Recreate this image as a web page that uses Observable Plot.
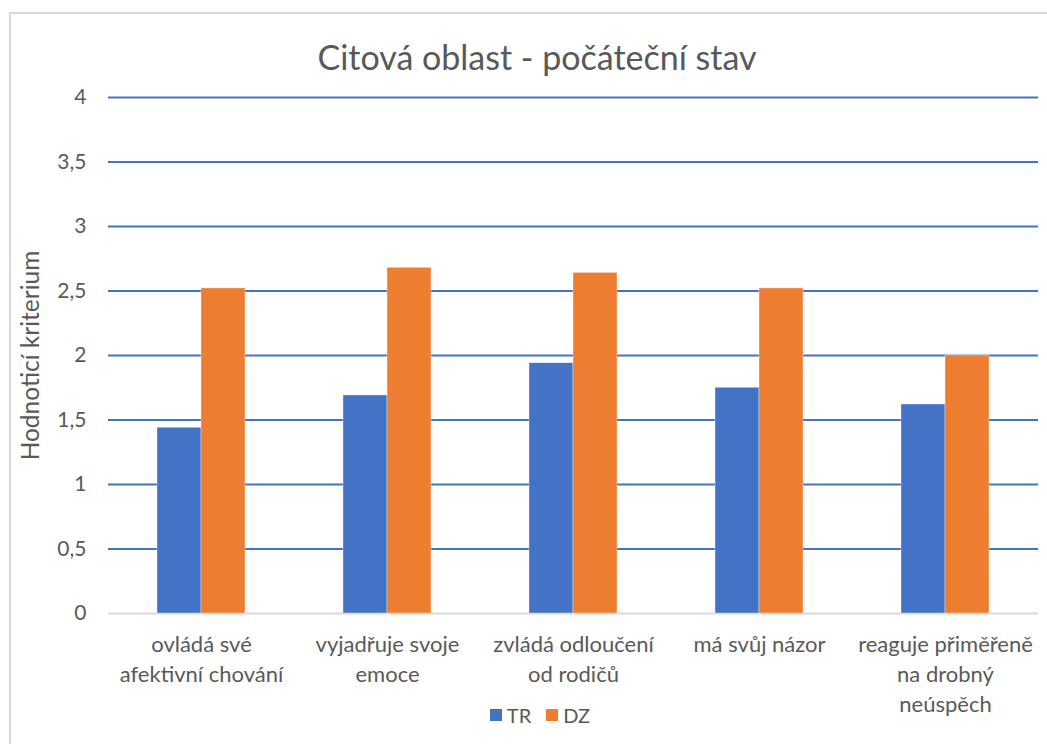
<!DOCTYPE html>
<html>
<head>
<meta charset="utf-8">
<script src="https://cdn.jsdelivr.net/npm/d3@7"></script>
<script src="https://cdn.jsdelivr.net/npm/@observablehq/plot@0.6"></script>
<style>
  html, body { margin: 0; padding: 0; background: #fff; }
  #wrap { position: relative; width: 1047px; height: 744px; overflow: hidden; font-family: Lato, "Open Sans", sans-serif; color: #595959; }
  #border { position: absolute; left: 9px; top: 12px; width: 1100px; height: 800px; border-left: 2px solid #d9d9d9; border-top: 2px solid #d9d9d9; }
  #title { position: absolute; left: 0; width: 1074px; top: 37px; text-align: center; font-size: 34px; line-height: 40px; }
  #legend { position: absolute; left: 0; width: 1080px; top: 703px; display: flex; justify-content: center; gap: 15px; font-size: 20px; line-height: 24px; }
  #legend .item { display: flex; align-items: center; gap: 5px; }
  #legend .sw { width: 12px; height: 12px; display: inline-block; }
  #chart { position: absolute; left: 0; top: 0; }
</style>
</head>
<body>
<div id="wrap">
  <div id="border"></div>
  <div id="chart"></div>
  <div id="title"></div>
  <div id="legend"></div>
</div>
<script>
const titleText = "Citová oblast - počáteční stav";
const yLabel = "Hodnoticí kriterium";
const categories = [
  "ovládá své\nafektivní chování",
  "vyjadřuje svoje\nemoce",
  "zvládá odloučení\nod rodičů",
  "má svůj názor",
  "reaguje přiměřeně\nna drobný\nneúspěch"
];
const series = ["TR", "DZ"];
const seriesColors = ["#4472C4", "#ED7D31"];
const trValues = [1.44, 1.69, 1.94, 1.75, 1.62];
const dzValues = [2.52, 2.68, 2.64, 2.52, 2.00];
const yTicks = [0, 0.5, 1, 1.5, 2, 2.5, 3, 3.5, 4];
const yTickLabels = ["0", "0,5", "1", "1,5", "2", "2,5", "3", "3,5", "4"];

const data = categories.flatMap((c, i) => [
  {cat: c, series: "TR", value: trValues[i]},
  {cat: c, series: "DZ", value: dzValues[i]}
]);

const font = "Lato, 'Open Sans', sans-serif";
const plot = Plot.plot({
  width: 1047,
  height: 744,
  marginTop: 97,
  marginBottom: 131,
  marginLeft: 106,
  marginRight: 8,
  style: {fontFamily: font, color: "#595959", background: "transparent", overflow: "visible"},
  fx: {domain: categories, padding: 0, label: null},
  x: {domain: series, paddingInner: 0, paddingOuter: 1.09, axis: null},
  y: {domain: [0, 4], label: null},
  color: {domain: series, range: seriesColors},
  marks: [
    Plot.gridY(yTicks.slice(1), {stroke: "#4472C4", strokeOpacity: 1, strokeWidth: 2}),
    Plot.ruleY([0], {stroke: "#d9d9d9", strokeWidth: 2}),
    Plot.barY(data, {fx: "cat", x: "series", y: "value", fill: "series", stroke: "#ffffff", strokeWidth: 0.6, strokeOpacity: 0.6}),
    Plot.axisY({ticks: yTicks, tickFormat: (d) => yTickLabels[yTicks.indexOf(d)], tickSize: 0, tickPadding: 22, fontSize: 21, fill: "#595959", label: null}),
    Plot.axisY({ticks: [], label: yLabel, labelAnchor: "center", labelOffset: 87, labelArrow: "none", fontSize: 24.5, fill: "#595959"}),
    Plot.axisFx({anchor: "bottom", tickSize: 0, tickPadding: 17, fontSize: 22, lineHeight: 1.36, fill: "#595959", label: null})
  ]
});
document.getElementById("chart").appendChild(plot);
document.getElementById("title").textContent = titleText;
const legend = document.getElementById("legend");
series.forEach((s, i) => {
  const item = document.createElement("span");
  item.className = "item";
  const sw = document.createElement("span");
  sw.className = "sw";
  sw.style.background = seriesColors[i];
  item.appendChild(sw);
  item.appendChild(document.createTextNode(s));
  legend.appendChild(item);
});
</script>
</body>
</html>
